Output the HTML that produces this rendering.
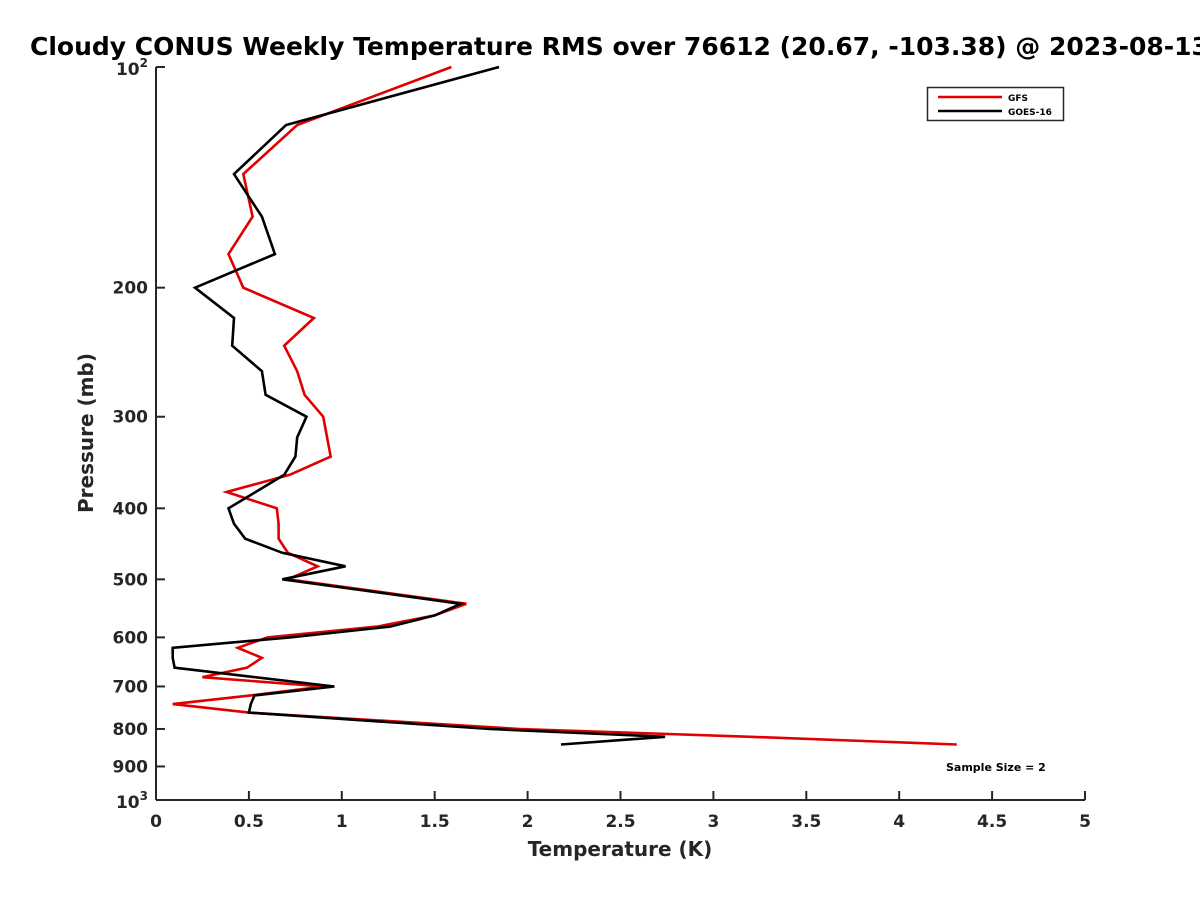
<!DOCTYPE html>
<html><head><meta charset="utf-8"><style>
body{margin:0;background:#fff;width:1200px;height:900px;overflow:hidden}
svg text{font-family:"DejaVu Sans","Liberation Sans",sans-serif;font-weight:bold;fill:#262626}
</style></head><body>
<svg id="chart" width="1200" height="900" xmlns="http://www.w3.org/2000/svg">
<text x="30" y="55" font-size="25" style="fill:#000">Cloudy CONUS Weekly Temperature RMS over 76612 (20.67, -103.38) @ 2023-08-13</text>
<g id="axes"></g>
<g id="series"></g>
<g>
<rect x="927.5" y="87.5" width="136" height="33" fill="#fff" stroke="#262626" stroke-width="1.5"/>
<line x1="938" y1="97" x2="1002" y2="97" stroke="#e00000" stroke-width="2.5"/>
<text x="1008" y="101" font-size="9" style="fill:#000">GFS</text>
<line x1="938" y1="111" x2="1002" y2="111" stroke="#000" stroke-width="2.5"/>
<text x="1008" y="115" font-size="9" style="fill:#000">GOES-16</text>
</g>
<text x="946" y="771" font-size="11" style="fill:#000">Sample Size = 2</text>
<text x="620" y="856" font-size="20" text-anchor="middle">Temperature (K)</text>
<text transform="translate(93,433) rotate(-90)" font-size="20" text-anchor="middle">Pressure (mb)</text>
</svg>
<script>
const xTicks=[0,0.5,1,1.5,2,2.5,3,3.5,4,4.5,5];
const xTickLabels=["0","0.5","1","1.5","2","2.5","3","3.5","4","4.5","5"];
const yTicks=[200,300,400,500,600,700,800,900];
const gfsPressure=[100,120,140,160,180,200,220,240,260,280,300,340,360,380,400,420,440,460,480,500,540,560,580,600,620,640,660,680,700,720,740,760,800,820,840];
const gfsTemp=[1.59,0.76,0.47,0.52,0.39,0.47,0.85,0.69,0.76,0.80,0.90,0.94,0.72,0.38,0.65,0.66,0.66,0.71,0.87,0.71,1.67,1.50,1.19,0.60,0.44,0.57,0.49,0.25,0.90,0.51,0.09,0.50,1.96,3.20,4.31];
const goesPressure=[100,120,140,160,180,200,220,240,260,280,300,320,340,360,400,420,440,460,480,500,540,560,580,600,620,640,660,700,720,740,760,800,820,840];
const goesTemp=[1.846,0.70,0.42,0.57,0.64,0.21,0.42,0.41,0.57,0.59,0.81,0.76,0.75,0.69,0.39,0.42,0.48,0.68,1.02,0.68,1.64,1.50,1.26,0.72,0.09,0.09,0.10,0.96,0.53,0.51,0.50,1.80,2.74,2.18];
const X0=156,X1=1085,Y0=67,Y1=800;
const xs=v=>X0+(v/5)*(X1-X0);
const ys=p=>Y0+Math.log10(p/100)*(Y1-Y0);
const NS="http://www.w3.org/2000/svg";
function mk(t,a,parent){const e=document.createElementNS(NS,t);for(const k in a)e.setAttribute(k,a[k]);parent.appendChild(e);return e;}
const ax=document.getElementById('axes');
const xa=mk('path',{d:`M${X0},${Y1}H${X1}`,stroke:'#262626','stroke-width':2,fill:'none'},ax);


const ya=mk('path',{d:`M${X0},${Y0}V${Y1}`,stroke:'#262626','stroke-width':2,fill:'none'},ax);


xTicks.forEach((v,i)=>{const x=xs(v);
mk('line',{x1:x,y1:Y1,x2:x,y2:Y1-9,stroke:'#262626','stroke-width':2},ax);
const t=mk('text',{x:x,y:Y1+27,'font-size':17,'text-anchor':'middle'},ax);t.textContent=xTickLabels[i];

});
[100,1000].concat(yTicks).forEach(p=>{const y=ys(p);mk('line',{x1:X0,y1:y,x2:X0+9,y2:y,stroke:'#262626','stroke-width':2},ax);});
yTicks.forEach(p=>{const y=ys(p);const t=mk('text',{x:X0-8,y:y+6,'font-size':17,'text-anchor':'end'},ax);t.textContent=String(p);

});
[[100,"2"],[1000,"3"]].forEach(([p,e])=>{const y=ys(p);const t=mk('text',{x:X0-8,y:y+8,'font-size':17,'text-anchor':'end'},ax);
t.innerHTML='10<tspan dy="-8" font-size="12">'+e+'</tspan>';

});
const sg=document.getElementById('series');
function line(P,T,c,name){const d=P.map((p,i)=>(i?'L':'M')+xs(T[i]).toFixed(1)+','+ys(p).toFixed(1)).join('');
const e=mk('path',{d:d,stroke:c,'stroke-width':2.6,fill:'none','stroke-linejoin':'miter'},sg);

}
line(gfsPressure,gfsTemp,'#e00000','gfs-line');
line(goesPressure,goesTemp,'#000','goes16-line');
</script>
</body></html>
